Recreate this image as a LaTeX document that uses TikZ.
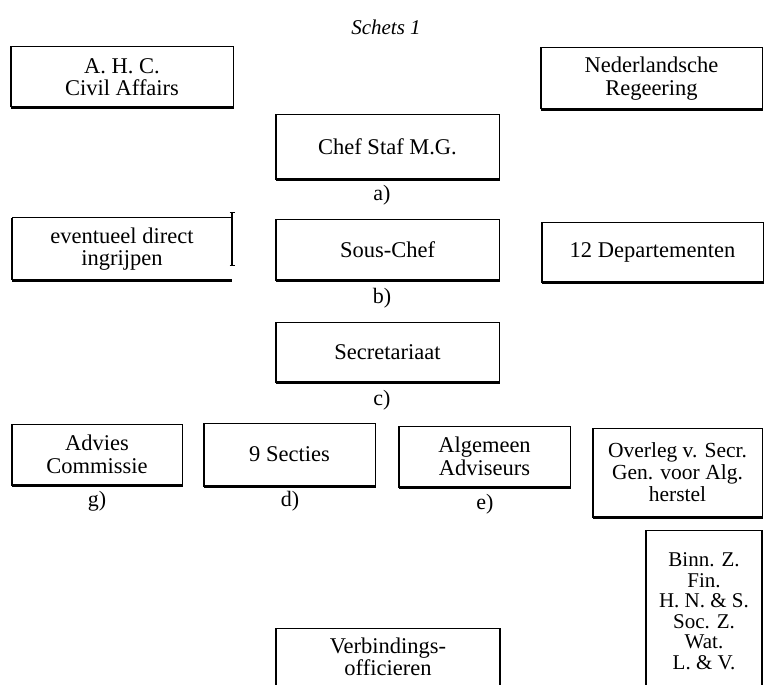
\documentclass[tikz,border=0pt]{standalone}
\usepackage{fontspec}
\setmainfont{Liberation Serif}
\usetikzlibrary{calc}
\begin{document}
\begin{tikzpicture}[x=1pt,y=-1pt,
  every node/.style={font=\fontsize{22.5}{22.5}\selectfont, align=center, inner sep=0pt},
  orgbox/.style={draw=black, line width=1pt, minimum width=#1},
  orgbox/.default=222pt,
  bottomline/.style={line width=2.6pt},
  sideline/.style={line width=1.8pt},
  lbl/.style={font=\fontsize{22}{22}\selectfont}]
\useasboundingbox (0,0) rectangle (764,685);
\node[font=\fontsize{21}{22}\selectfont\itshape] (title) at (386,27) {Schets 1};

\node[orgbox=222pt, minimum height=60pt] (ahc) at (122,77) {A. H. C.\\Civil Affairs};
\node[orgbox=221pt, minimum height=61pt] (ned) at (651.5,78.5) {Nederlandsche\\Regeering};
\node[orgbox=223pt, minimum height=64pt] (chef) at (387.5,147) {Chef Staf M.G.};
\node[lbl] (la) at (382,195) {a)};

\node[minimum width=220pt, minimum height=62pt] (event) at (122,249) {eventueel direct\\ingrijpen};
\node[orgbox=223pt, minimum height=61pt] (sous) at (387.5,249.5) {Sous-Chef};
\node[orgbox=221pt, minimum height=60pt] (dep) at (652.5,252) {12 Departementen};
\node[lbl] (lb) at (382,298) {b)};

\node[orgbox=223pt, minimum height=60pt] (secr) at (387.5,352) {Secretariaat};
\node[lbl] (lc) at (382,400) {c)};

\node[orgbox=170pt, minimum height=61pt] (adv) at (97,454.5) {Advies\\Commissie};
\node[orgbox=171pt, minimum height=63pt] (sect) at (289.5,454.5) {9 Secties};
\node[orgbox=171pt, minimum height=61pt] (alg) at (484.5,456.5) {Algemeen\\Adviseurs};
\node[orgbox=169pt, minimum height=89pt, font=\fontsize{21.5}{22}\selectfont] (over) at (677.5,472.5) {Overleg v. Secr.\\Gen. voor Alg.\\herstel};
\node[lbl] (lg) at (97,501) {g)};
\node[lbl] (ld) at (290,501) {d)};
\node[lbl] (le) at (485,504) {e)};

\node[font=\fontsize{21}{20.5}\selectfont] (binn) at (704,611) {Binn. Z.\\Fin.\\H. N. \& S.\\Soc. Z.\\Wat.\\L. \& V.};
\node (verb) at (388,657) {Verbindings-\\officieren};

% heavier bottoms and sides, as printed
\foreach \n in {ahc,ned,chef,sous,dep,secr,adv,sect,alg,over}{
  \draw[bottomline] (\n.south west) -- (\n.south east);
  \draw[sideline] (\n.south west) -- (\n.north west);
  \draw[sideline] (\n.south east) -- (\n.north east);
}
% box with the short right bar
\draw[line width=1pt] (event.north east) -- (event.north west);
\draw[sideline] (event.north west) -- (event.south west);
\draw[bottomline] (event.south west) -- (event.south east);
\draw[line width=1.5pt] ($(event.north east)+(0,-5)$) -- ($(event.north east)+(0,48)$);
\draw[line width=1.2pt] ($(event.north east)+(-2.5,-5)$) -- ++(5,0);
\draw[line width=1.2pt] ($(event.north east)+(-2.5,48)$) -- ++(5,0);
% boxes cut off at the bottom edge
\draw[sideline] (646,690) -- (646,530);
\draw[line width=1pt] (646,530) -- (762,530);
\draw[sideline] (762,530) -- (762,690);
\draw[sideline] (276,690) -- (276,628);
\draw[line width=1pt] (276,628) -- (500,628);
\draw[sideline] (500,628) -- (500,690);
\end{tikzpicture}
\end{document}
